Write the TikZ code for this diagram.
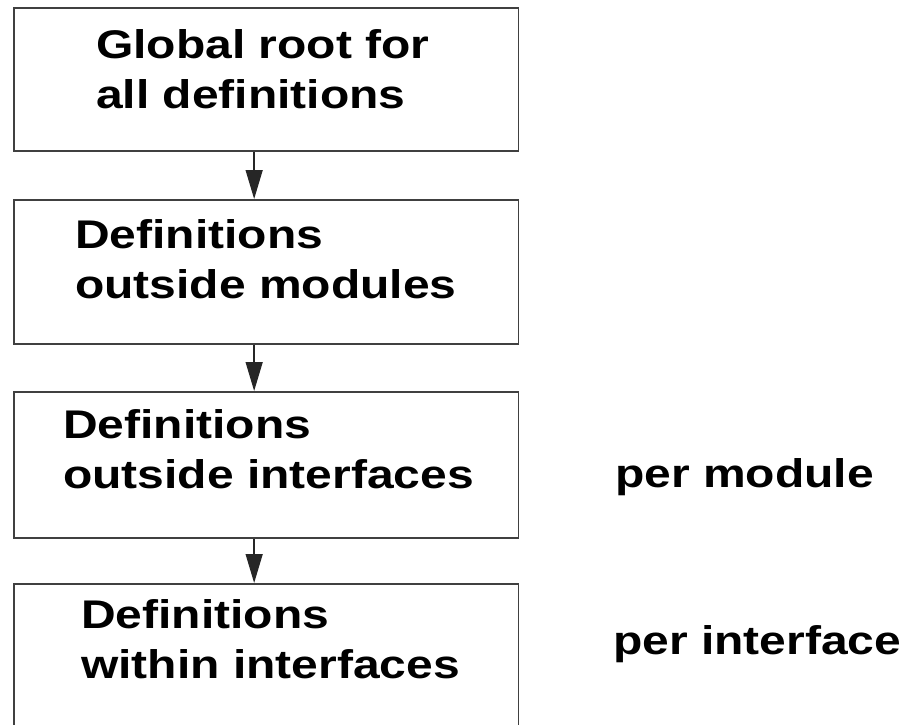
\documentclass[tikz,border=0pt]{standalone}
\usepackage{fontspec}
\setmainfont{Liberation Sans}[FakeStretch=1.2]
\usetikzlibrary{arrows.meta}
\begin{document}
\begin{tikzpicture}[x=1pt,y=1pt,
  box/.style={draw=black!75, line width=1.8pt, minimum width=504.5pt, inner sep=0pt, anchor=north west},
  lbl/.style={font=\fontsize{40}{50}\selectfont\bfseries, align=left, anchor=base west, inner sep=0pt},
  conn/.style={draw=black!85, line width=1.4pt, -{Triangle[length=29pt,width=17pt]}}]
\useasboundingbox (0,0) rectangle (908,-724);
\node[box, minimum height=143pt] (b1) at (13,-7) {};
\node[box, minimum height=144pt] (b2) at (13,-199) {};
\node[box, minimum height=146pt] (b3) at (13,-391) {};
\node[box, minimum height=170pt] (b4) at (13,-583) {};
\draw[conn] ([xshift=-12pt]b1.south) -- ([xshift=-12pt]b2.north);
\draw[conn] ([xshift=-12pt]b2.south) -- ([xshift=-12pt]b3.north);
\draw[conn] ([xshift=-12pt]b3.south) -- ([xshift=-12pt]b4.north);
\node[lbl] (t1) at (96,-108) {Global root for\\all definitions};
\node[lbl] (t2) at (75,-298.5) {Definitions\\outside modules};
\node[lbl] (t3) at (63,-488.5) {Definitions\\outside interfaces};
\node[lbl] (t4) at (81,-678.5) {Definitions\\within interfaces};
\node[lbl] (pm) at (615,-487) {per module};
\node[lbl] (pi) at (613,-654) {per interface};
\end{tikzpicture}
\end{document}
